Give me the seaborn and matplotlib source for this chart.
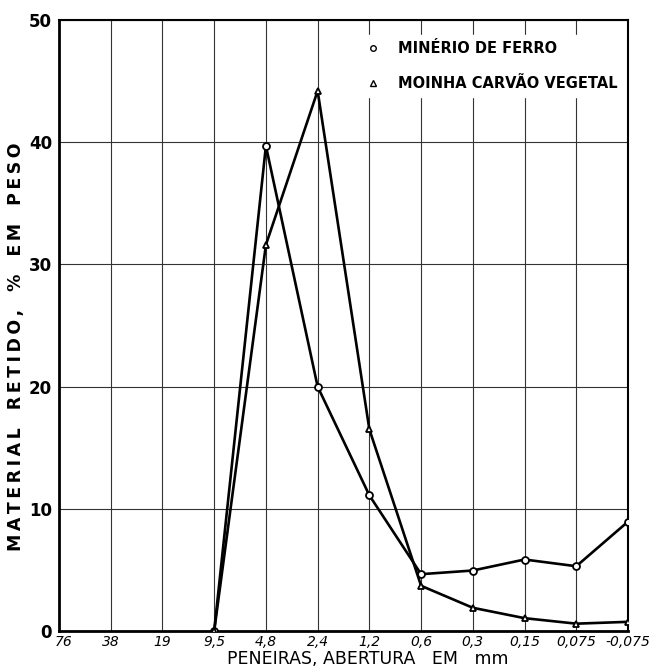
import pandas as pd
import matplotlib
matplotlib.use('Agg')
import matplotlib.pyplot as plt
import matplotlib.transforms as mtransforms
import seaborn as sns
from matplotlib.lines import Line2D

# sieve openings (mm) and retained material (% by weight)
peneiras = ['76', '38', '19', '9,5', '4,8', '2,4', '1,2', '0,6', '0,3', '0,15', '0,075', '-0,075']
peneiras_medidas = ['9,5', '4,8', '2,4', '1,2', '0,6', '0,3', '0,15', '0,075', '-0,075']
minerio = [0, 39.7, 20.0, 11.1, 4.65, 4.95, 5.85, 5.3, 8.95]
moinha = [0, 31.6, 44.2, 16.5, 3.7, 1.9, 1.05, 0.6, 0.75]
serie_labels = ['MINÉRIO DE FERRO', 'MOINHA CARVÃO VEGETAL']

pos = [peneiras.index(p) for p in peneiras_medidas]
df = pd.concat([
    pd.DataFrame({'pos': pos, 'retido': minerio, 'serie': serie_labels[0]}),
    pd.DataFrame({'pos': pos, 'retido': moinha, 'serie': serie_labels[1]}),
])

sns.set_style('white')
plt.rcParams['text.color'] = 'black'
plt.rcParams['axes.labelcolor'] = 'black'

fig = plt.figure(figsize=(6.51, 6.71), dpi=100)
ax = fig.add_axes([59 / 651, 40 / 671, 569 / 651, 611 / 671])

sns.lineplot(data=df, x='pos', y='retido', style='serie',
             markers={serie_labels[0]: 'o', serie_labels[1]: '^'},
             dashes=False, color='black', linewidth=1.9,
             markersize=5, markerfacecolor='white', markeredgecolor='black',
             markeredgewidth=1.3, legend=False, ax=ax, zorder=3)

ax.set_xlim(0, len(peneiras) - 1)
ax.set_ylim(0, 50)
ax.set_xticks(range(len(peneiras)))
ax.set_xticklabels(peneiras, fontsize=10, fontstyle='italic')
ax.set_yticks([0, 10, 20, 30, 40, 50])
ax.set_yticklabels(['0', '10', '20', '30', '40', '50'], fontsize=12, fontweight='bold')
ax.tick_params(axis='both', length=0, pad=5, colors='black')
ax.tick_params(axis='x', pad=3)
# nudge the first sieve label right, clear of the y "0"
first = ax.get_xticklabels()[0]
first.set_transform(first.get_transform() + mtransforms.ScaledTranslation(5 / 100, 0, fig.dpi_scale_trans))

ax.grid(True, color='#333333', linewidth=0.8)
ax.set_axisbelow(True)
for side, sp in ax.spines.items():
    sp.set_color('black')
    sp.set_linewidth(2.0 if side in ('left', 'bottom') else 1.5)

ax.set_xlabel('PENEIRAS, ABERTURA   EM   mm', fontsize=12.5)
ax.xaxis.set_label_coords(0.543, -0.031)
thin = '\u2009'
ylab = '   '.join(thin.join(w) for w in ['MATERIAL', 'RETIDO,', '%', 'EM', 'PESO'])
ax.set_ylabel(ylab, fontsize=12.5, fontweight='bold')
ax.yaxis.set_label_coords(-0.06, 0.465)

handles = [Line2D([], [], linestyle='none', marker='o', markersize=4,
                  markerfacecolor='white', markeredgecolor='black'),
           Line2D([], [], linestyle='none', marker='^', markersize=5,
                  markerfacecolor='white', markeredgecolor='black')]
leg = ax.legend(handles, serie_labels, loc='upper right', bbox_to_anchor=(0.997, 0.98),
                frameon=True, fancybox=False, framealpha=1, edgecolor='white',
                prop={'size': 10.5, 'weight': 'bold'}, labelspacing=1.4,
                handlelength=1.0, handletextpad=1.2, borderaxespad=0.2)

fig.savefig('out.png', dpi=100)
